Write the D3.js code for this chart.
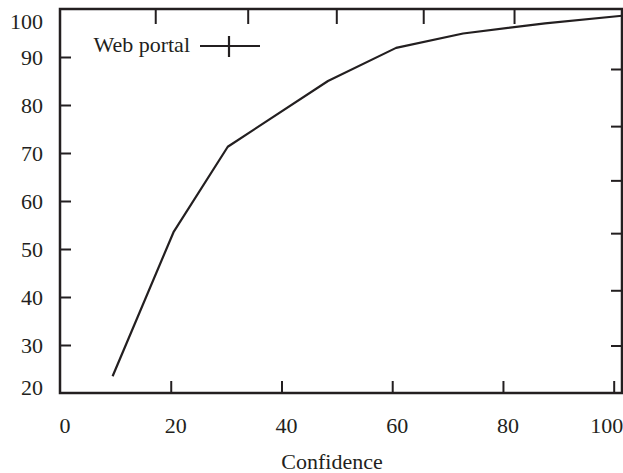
<!DOCTYPE html>
<html>
  <head>
    <meta charset="utf-8">
    <title>Web portal confidence</title>
    <script src="https://d3js.org/d3.v7.min.js"></script>
    <style>
      body { margin: 0; background: #fff; }
      text { font-family: "Liberation Serif", "Times New Roman", serif; fill: #231f20; }
    </style>
  </head>
  <body>
    <script>
        // data
        var confidence = [9.5, 20.5, 30.3, 48.4, 60.7, 72.8, 87.6, 101.5]
        var portal = [23.5, 53.5, 71.3, 85, 91.9, 94.9, 97, 98.6]
        var xTicks = [0, 20, 40, 60, 80, 100]
        var yTicks = [20, 30, 40, 50, 60, 70, 80, 90, 100]
        var topTicks = [17.2, 33.9, 49.9, 65.6, 82]
        var rightTicks = [87.5, 75.6, 64.3, 53.3, 41.4, 29.9]

        var width = 623, height = 473
        var frame = {left: 60, right: 622, top: 9, bottom: 393}
        var ink = "#231f20"

        var svg = d3.select("body").append("svg")
            .attr("width", width)
            .attr("height", height)

        var x = d3.scaleLinear().domain([0, 101.5]).range([frame.left, frame.right])
        var y = d3.scaleLinear().domain([20, 100]).range([frame.bottom, frame.top])

        // tick marks on all four sides
        svg.append("g")
            .attr("transform", "translate(0," + frame.bottom + ")")
            .call(d3.axisTop(x).tickValues(xTicks.slice(1)).tickSize(12).tickFormat(""))
        svg.append("g")
            .attr("transform", "translate(0," + frame.top + ")")
            .call(d3.axisBottom(x).tickValues(topTicks).tickSize(15).tickFormat(""))
        svg.append("g")
            .attr("transform", "translate(" + frame.left + ",0)")
            .call(d3.axisRight(y).tickValues(yTicks.slice(1, -1)).tickSize(11).tickFormat(""))
        svg.append("g")
            .attr("transform", "translate(" + frame.right + ",0)")
            .call(d3.axisLeft(y).tickValues(rightTicks).tickSize(11).tickFormat(""))
        svg.selectAll(".domain").remove()
        svg.selectAll(".tick line").attr("stroke", ink).attr("stroke-width", 2)

        svg.append("rect")
            .attr("x", frame.left).attr("y", frame.top)
            .attr("width", frame.right - frame.left).attr("height", frame.bottom - frame.top)
            .attr("fill", "none").attr("stroke", ink).attr("stroke-width", 2.5)

        // tick labels
        svg.selectAll(".ylab")
            .data(yTicks)
            .enter().append("text")
            .attr("x", 43)
            .attr("y", function(d) { return y(d) + (d == 100 ? 12.5 : d == 20 ? -6 : 0); })
            .attr("dy", "0.35em")
            .attr("text-anchor", "end")
            .attr("font-size", "22px")
            .text(function(d) { return d; })

        // labels sit a little right of their ticks; the last one is pulled in
        svg.selectAll(".xlab")
            .data(xTicks)
            .enter().append("text")
            .attr("x", function(d) { return x(d) + (d == 100 ? -7 : 5); })
            .attr("y", 433)
            .attr("text-anchor", "middle")
            .attr("font-size", "22px")
            .text(function(d) { return d; })

        svg.append("text")
            .attr("x", 332)
            .attr("y", 469)
            .attr("text-anchor", "middle")
            .attr("font-size", "22px")
            .text("Confidence")

        // the curve
        var line = d3.line()
            .x(function(d, i) { return x(confidence[i]); })
            .y(function(d) { return y(d); })

        svg.append("path")
            .datum(portal)
            .attr("d", line)
            .attr("fill", "none")
            .attr("stroke", ink)
            .attr("stroke-width", 2.2)
            .attr("stroke-linejoin", "round")

        // key
        svg.append("text")
            .attr("x", 190)
            .attr("y", 52)
            .attr("text-anchor", "end")
            .attr("font-size", "22px")
            .text("Web portal")
        svg.append("line")
            .attr("x1", 200).attr("x2", 260).attr("y1", 46).attr("y2", 46)
            .attr("stroke", ink).attr("stroke-width", 2.2)
        svg.append("line")
            .attr("x1", 229).attr("x2", 229).attr("y1", 36).attr("y2", 57)
            .attr("stroke", ink).attr("stroke-width", 2.2)
    </script>
  </body>
</html>
